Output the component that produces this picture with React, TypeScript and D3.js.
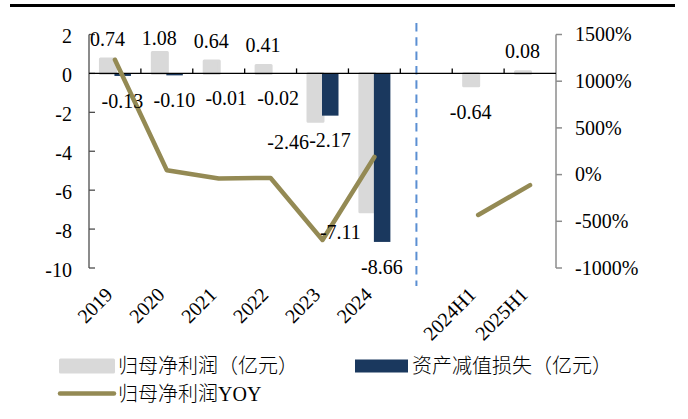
import React from "react";
import * as d3 from "d3";

const categories = ["2019", "2020", "2021", "2022", "2023", "2024", "", "2024H1", "2025H1"];
const netProfit: (number | null)[] = [0.74, 1.08, 0.64, 0.41, -2.46, -7.11, null, -0.64, 0.08];
const impairment: (number | null)[] = [-0.13, -0.1, -0.01, -0.02, -2.17, -8.66, null, null, null];
const yoy: (number | null)[] = [1230, 46, -41, -36, -700, 189, null, -432, -112.5];
const leftTicks = [2, 0, -2, -4, -6, -8, -10];
const rightTicks = [1500, 1000, 500, 0, -500, -1000];
const legendNames = ["归母净利润（亿元）", "资产减值损失（亿元）", "归母净利润YOY"];

const W = 688;
const H = 419;
const GRAY = "#d9d9d9";
const NAVY = "#1a385e";
const OLIVE = "#948a54";
const FONT = '"Liberation Serif", "Times New Roman", "Noto Sans CJK SC", serif';

export default function App() {
  const left = 89;
  const right = 556;
  const top = 34.5;
  const bottom = 268;

  const x = d3.scaleBand<number>().domain(categories.map((_, i) => i)).range([left, right]).padding(0);
  const bw = x.bandwidth();
  const yL = d3.scaleLinear().domain([-10, 2]).range([bottom, top]);
  const yR = d3.scaleLinear().domain([-1000, 1500]).range([bottom, top]);
  const cx = (i: number) => (x(i) as number) + bw / 2;
  const y0 = yL(0);

  const grayX0 = (i: number) => cx(i) - 14.5;
  const grayW = 15;
  const navyX0 = (i: number) => cx(i) - 0.5;
  const navyW = 16.5;

  const lineGen = d3
    .line<number | null>()
    .defined((d) => d != null)
    .x((_, i) => cx(i))
    .y((d) => yR(d as number));

  const labelFs = 20;
  const base = (c: number) => c + labelFs * 0.33;

  // separator position between 2024 and the blank slot
  const sepX = (x(6) as number) + bw * 0.31;

  return (
    <svg
      width={W}
      height={H}
      style={{ position: "absolute", left: 0, top: 0, background: "#fff", fontFamily: FONT }}
    >
      <rect x={10} y={4} width={665} height={3} fill="#000" />

      {/* bars: net profit */}
      {netProfit.map((v, i) =>
        v == null ? null : (
          <rect
            key={"g" + i}
            x={grayX0(i)}
            y={Math.min(yL(v), y0)}
            width={grayW}
            height={Math.abs(yL(v) - y0)}
            fill={GRAY}
            stroke={GRAY}
            strokeWidth={3}
            strokeLinejoin="round"
          />
        )
      )}
      {impairment.map((v, i) =>
        v == null ? null : (
          <rect
            key={"n" + i}
            x={navyX0(i)}
            y={Math.min(yL(v), y0)}
            width={navyW}
            height={Math.abs(yL(v) - y0)}
            fill={NAVY}
          />
        )
      )}

      {/* separator */}
      <line x1={sepX} x2={sepX} y1={23} y2={286} stroke="#5b8fd2" strokeWidth={2} strokeDasharray="8.5,5.8" />

      {/* left axis */}
      <line x1={left} x2={left} y1={top} y2={bottom} stroke="#4d4d4d" strokeWidth={1.3} />
      {leftTicks.map((t) => (
        <g key={"lt" + t}>
          <line x1={left} x2={left + 6} y1={yL(t)} y2={yL(t)} stroke="#4d4d4d" strokeWidth={1.3} />
          <text x={72} y={yL(t) + 8.5} textAnchor="end" fontSize={20} fill="#000">
            {t}
          </text>
        </g>
      ))}

      {/* right axis */}
      <line x1={right} x2={right} y1={yR(1500)} y2={yR(-1000)} stroke="#8c8c8c" strokeWidth={1.5} />
      {rightTicks.map((t) => (
        <g key={"rt" + t}>
          <line x1={right} x2={right + 6} y1={yR(t)} y2={yR(t)} stroke="#8c8c8c" strokeWidth={1.5} />
          <text x={575} y={yR(t) + 6.8} textAnchor="start" fontSize={20} fill="#000">
            {t + "%"}
          </text>
        </g>
      ))}

      {/* x axis at zero */}
      <line x1={left} x2={right} y1={y0} y2={y0} stroke="#000" strokeWidth={1.3} />
      {categories.map((_, i) =>
        i === 0 ? null : (
          <line key={"xt" + i} x1={x(i)} x2={x(i)} y1={y0} y2={y0 - 5} stroke="#000" strokeWidth={1.3} />
        )
      )}
      {categories.map((c, i) =>
        c === "" ? null : (
          <text
            key={"xl" + i}
            transform={`translate(${cx(i) - 1},296) rotate(-45)`}
            textAnchor="end"
            fontSize={20}
            fill="#000"
          >
            {c}
          </text>
        )
      )}

      {/* YOY line */}
      <path
        d={lineGen(yoy) || ""}
        fill="none"
        stroke={OLIVE}
        strokeWidth={4.5}
        strokeLinejoin="round"
        strokeLinecap="round"
      />

      {/* labels: impairment */}
      {impairment.map((v, i) =>
        v == null ? null : (
          <text key={"nl" + i} x={cx(i) + 7.5} y={base(yL(v) + 25)} textAnchor="middle" fontSize={labelFs}>
            {v.toFixed(2)}
          </text>
        )
      )}
      {/* labels: net profit */}
      {netProfit.map((v, i) => {
        if (v == null) return null;
        if (v >= 0) {
          const c = Math.max(yL(v) - 20, 38);
          return (
            <text key={"gl" + i} x={cx(i) - 7.5} y={base(c)} textAnchor="middle" fontSize={labelFs}>
              {v.toFixed(2)}
            </text>
          );
        }
        const imp = impairment[i];
        const bigNeighbour = imp != null && Math.abs(imp) > 1;
        if (bigNeighbour) {
          return (
            <text key={"gl" + i} x={navyX0(i) - 13} y={base(yL(v) + 21)} textAnchor="end" fontSize={labelFs}>
              {v.toFixed(2)}
            </text>
          );
        }
        return (
          <text key={"gl" + i} x={cx(i) - 7.5} y={base(yL(v) + 27)} textAnchor="middle" fontSize={labelFs}>
            {v.toFixed(2)}
          </text>
        );
      })}

      {/* legend */}
      <rect x={60.5} y={360} width={53} height={12} fill={GRAY} stroke={GRAY} strokeWidth={3} strokeLinejoin="round" />
      <text x={118} y={366 + 7} fontSize={20} fontWeight={300}>
        {legendNames[0]}
      </text>
      <rect x={355} y={359.5} width={53} height={13} fill={NAVY} />
      <text x={412} y={366 + 7} fontSize={20} fontWeight={300}>
        {legendNames[1]}
      </text>
      <line x1={60} x2={114} y1={393.5} y2={393.5} stroke={OLIVE} strokeWidth={4.5} strokeLinecap="round" />
      <text x={118} y={393.5 + 7} fontSize={20} fontWeight={300}>
        {legendNames[2]}
      </text>
    </svg>
  );
}
